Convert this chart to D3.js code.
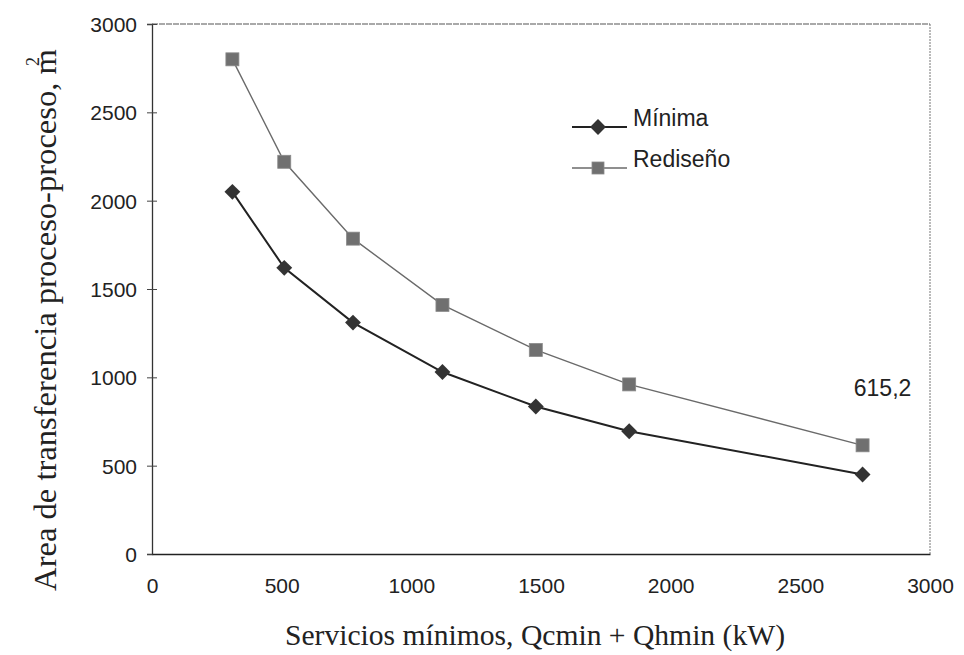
<!DOCTYPE html>
<html>
<head>
<meta charset="utf-8">
<script src="https://cdn.jsdelivr.net/npm/d3@7"></script>
<style>
  body { margin: 0; background: #fff; }
  svg { display: block; }
  .tick-label { font-family: "Liberation Sans", Arial, sans-serif; font-size: 21px; fill: #222; }
  .title { font-family: "Liberation Serif", "Times New Roman", serif; fill: #222; }
</style>
</head>
<body>
<div id="chart"></div>
<script>
// servicios minimos (kW) and area values
var servicios = [310, 510, 775, 1120, 1480, 1840, 2740];
var minima    = [2050, 1620, 1310, 1030, 835, 695, 450];
var rediseno  = [2800, 2220, 1785, 1410, 1155, 960, 615.2];
var xTicks = [0, 500, 1000, 1500, 2000, 2500, 3000];
var yTicks = [0, 500, 1000, 1500, 2000, 2500, 3000];
var seriesNames = ["Mínima", "Rediseño"];
var lastLabel = "615,2";

var W = 964, H = 655;
var margin = {top: 24, right: 34, bottom: 101, left: 152};

var svg = d3.select("#chart").append("svg")
    .attr("width", W)
    .attr("height", H);

var x = d3.scaleLinear().domain([0, 3000]).range([margin.left, W - margin.right]);
var y = d3.scaleLinear().domain([0, 3000]).range([H - margin.bottom, margin.top]);

// frame: top/right lighter, left/bottom dark
svg.append("line")
    .attr("x1", x(0)).attr("x2", x(3000)).attr("y1", y(3000)).attr("y2", y(3000))
    .attr("stroke", "#555").attr("stroke-width", 1.2).attr("stroke-dasharray", "6,1");
svg.append("line")
    .attr("x1", x(3000)).attr("x2", x(3000)).attr("y1", y(3000)).attr("y2", y(0))
    .attr("stroke", "#777").attr("stroke-width", 1).attr("stroke-dasharray", "2,1");

//y axis
var yAxis = svg.append("g")
    .attr("transform", "translate(" + x(0) + ",0)")
    .call(d3.axisLeft(y).tickValues(yTicks).tickSize(5).tickFormat(d3.format("d")));
yAxis.select(".domain").attr("stroke", "#333").attr("stroke-width", 1.3);
yAxis.selectAll(".tick line").attr("stroke", "#444").attr("x2", -5).attr("x1", 5);
yAxis.selectAll(".tick text").attr("class", "tick-label").attr("x", -15).attr("dy", "0.35em");

//x axis
var xAxis = svg.append("g")
    .attr("transform", "translate(0," + y(0) + ")")
    .call(d3.axisBottom(x).tickValues(xTicks).tickSize(0).tickFormat(d3.format("d")));
xAxis.select(".domain").attr("stroke", "#222").attr("stroke-width", 1.6);
xAxis.selectAll(".tick text").attr("class", "tick-label").attr("y", 24).attr("dy", "0.71em");

// axis titles
svg.append("text")
    .attr("class", "title")
    .attr("x", 535).attr("y", 645)
    .attr("text-anchor", "middle")
    .attr("font-size", 29)
    .attr("textLength", 500)
    .attr("lengthAdjust", "spacingAndGlyphs")
    .text("Servicios mínimos, Qcmin + Qhmin (kW)");

var yt = svg.append("text")
    .attr("class", "title")
    .attr("transform", "translate(56,320) rotate(-90)")
    .attr("text-anchor", "middle")
    .attr("font-size", 32.6);
yt.append("tspan").text("Area de transferencia proceso-proceso,  m");
yt.append("tspan").attr("font-size", 18).attr("dx", -17).attr("dy", -17).text("2");

// lines
var lineMin = d3.line()
    .x(function(d, i){ return x(servicios[i]); })
    .y(function(d){ return y(d); });

svg.append("path")
    .attr("d", lineMin(rediseno))
    .attr("fill", "none")
    .attr("stroke", "#6a6a6a")
    .attr("stroke-width", 1.4);

svg.append("path")
    .attr("d", lineMin(minima))
    .attr("fill", "none")
    .attr("stroke", "#222")
    .attr("stroke-width", 2);

var diamond = d3.symbol().type(d3.symbolDiamond2).size(160);

svg.selectAll(".sq")
    .data(rediseno)
    .enter().append("rect")
    .attr("class", "sq")
    .attr("x", function(d, i){ return x(servicios[i]) - 6.5; })
    .attr("y", function(d){ return y(d) - 6.5; })
    .attr("width", 13).attr("height", 13)
    .attr("fill", "#707070")
    .attr("stroke", "#8a8a8a")
    .attr("stroke-width", 0.8);

svg.selectAll(".dm")
    .data(minima)
    .enter().append("path")
    .attr("class", "dm")
    .attr("transform", function(d, i){ return "translate(" + x(servicios[i]) + "," + y(d) + ")"; })
    .attr("d", diamond)
    .attr("fill", "#333");

// value label on last Rediseño point
svg.append("text")
    .attr("class", "tick-label")
    .style("font-size", "23px")
    .attr("x", x(servicios[servicios.length - 1]) + 20)
    .attr("y", y(rediseno[rediseno.length - 1]) - 49)
    .attr("text-anchor", "middle")
    .text(lastLabel);

// legend
var legend = svg.append("g").attr("transform", "translate(572,127)");
legend.append("line").attr("x1", 0).attr("x2", 55).attr("y1", 0).attr("y2", 0)
    .attr("stroke", "#222").attr("stroke-width", 2);
legend.append("path").attr("transform", "translate(26,0)").attr("d", diamond).attr("fill", "#333");
legend.append("text").attr("class", "tick-label").style("font-size", "23px")
    .attr("x", 61).attr("y", -1).text(seriesNames[0]);

legend.append("line").attr("x1", 0).attr("x2", 55).attr("y1", 41).attr("y2", 41)
    .attr("stroke", "#6a6a6a").attr("stroke-width", 1.4);
legend.append("rect").attr("x", 20).attr("y", 35).attr("width", 12).attr("height", 12)
    .attr("fill", "#707070").attr("stroke", "#8a8a8a").attr("stroke-width", 0.8);
legend.append("text").attr("class", "tick-label").style("font-size", "23px")
    .attr("x", 61).attr("y", 40).text(seriesNames[1]);
</script>
</body>
</html>
